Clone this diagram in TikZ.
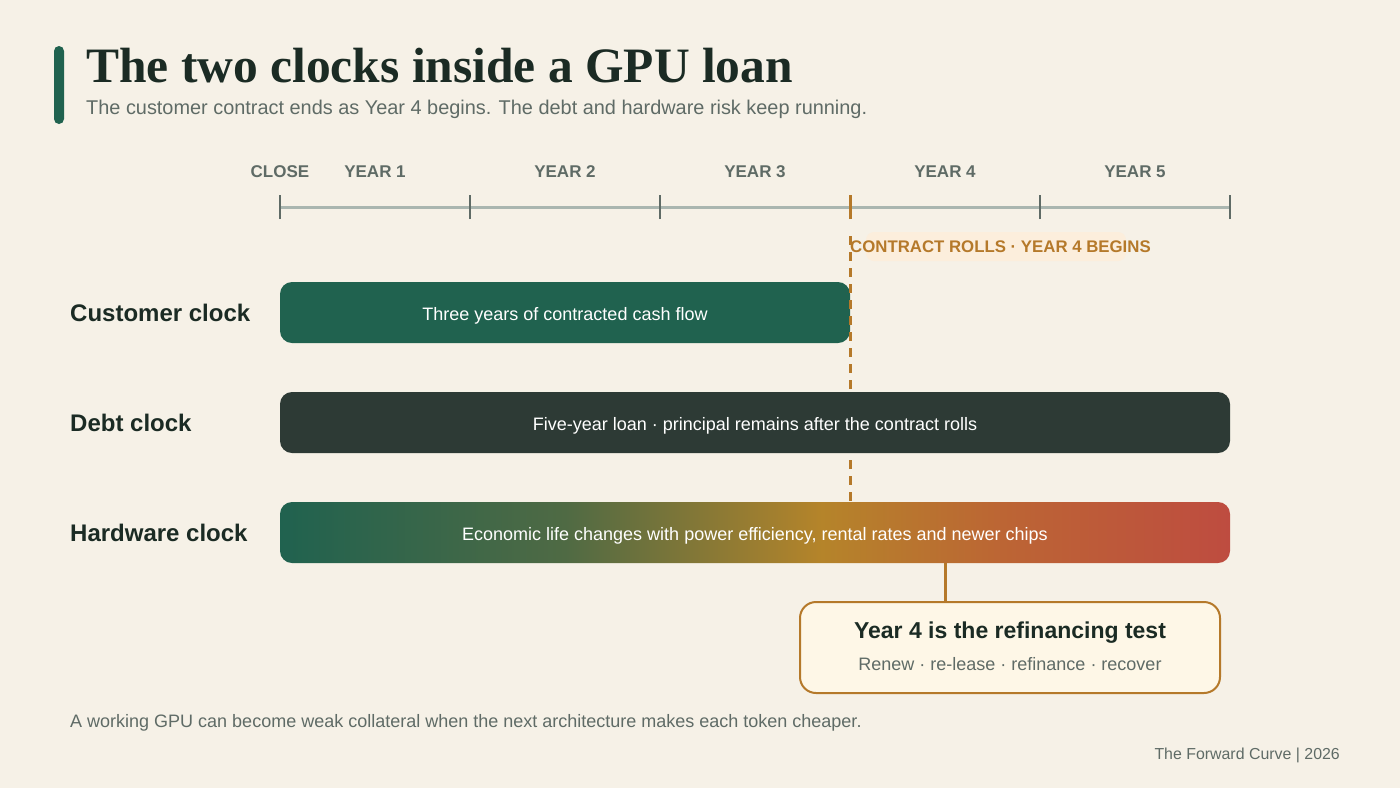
\documentclass[tikz,border=0pt]{standalone}
\usepackage{fontspec}
\setmainfont{Liberation Sans}
\newfontfamily\titlefont{Liberation Serif}
\definecolor{bgc}{HTML}{F6F1E7}
\definecolor{accent}{HTML}{20624F}
\definecolor{inkc}{HTML}{1B2B24}
\definecolor{greyc}{HTML}{5F6B66}
\definecolor{axisc}{HTML}{AAB6B0}
\definecolor{goldc}{HTML}{B5792A}
\definecolor{debtc}{HTML}{2D3A35}
\definecolor{paleb}{HTML}{FCEEDC}
\definecolor{callfill}{HTML}{FEF7E7}
\definecolor{gA}{HTML}{20624F}
\definecolor{gB}{HTML}{4F6A44}
\definecolor{gC}{HTML}{B5842A}
\definecolor{gD}{HTML}{BC6534}
\definecolor{gE}{HTML}{BE4C40}
\pgfdeclarehorizontalshading{hwgrad}{100bp}{color(0bp)=(gA); color(25bp)=(gA); color(40bp)=(gB); color(53.5bp)=(gC); color(63bp)=(gD); color(75bp)=(gE); color(100bp)=(gE)}
\tikzset{
  yearlab/.style={font=\bfseries\fontsize{17}{20}\selectfont, text=greyc, inner sep=0pt, anchor=base},
  rowlab/.style={font=\bfseries\fontsize{24}{28}\selectfont, text=inkc, anchor=base west, inner sep=0pt},
  bar/.style={rounded corners=12pt, minimum height=61pt, inner sep=0pt},
  bartext/.style={text=white, font=\fontsize{18}{22}\selectfont, anchor=base, inner sep=0pt},
  tick/.style={draw=greyc, line width=2.5pt},
}
\begin{document}
\begin{tikzpicture}[x=1pt,y=-1pt]
\useasboundingbox (0,0) rectangle (1400,788);
\fill[bgc] (0,0) rectangle (1400,788);
% header
\fill[accent, rounded corners=5pt] (54,46) rectangle (64,124);
\node[anchor=base west, inner sep=0pt, text=inkc, font=\titlefont\bfseries\fontsize{49.5}{54}\selectfont] (title) at (86,82) {The two clocks inside a GPU loan};
\node[anchor=base west, inner sep=0pt, text=greyc, font=\fontsize{19.9}{23}\selectfont] (sub) at (86,114) {The customer contract ends as Year 4 begins. The debt and hardware risk keep running.};
% timeline
\coordinate (t0) at (280,207);
\coordinate (t1) at (470,207);
\coordinate (t2) at (660,207);
\coordinate (t3) at (850,207);
\coordinate (t4) at (1040,207);
\coordinate (t5) at (1230,207);
\draw[axisc, line width=3pt] (t0) -- (t5);
\foreach \t in {t0,t1,t2,t4,t5} {\draw[tick] ([yshift=-12pt]\t) -- ([yshift=12pt]\t);}
\draw[goldc, line width=3pt] ([yshift=-12pt]t3) -- ([yshift=12pt]t3);
\node[yearlab] (lclose) at (280,177) {CLOSE};
\node[yearlab] (ly1) at (375,177) {YEAR 1};
\node[yearlab] (ly2) at (565,177) {YEAR 2};
\node[yearlab] (ly3) at (755,177) {YEAR 3};
\node[yearlab] (ly4) at (945,177) {YEAR 4};
\node[yearlab] (ly5) at (1135,177) {YEAR 5};
% contract roll label
\fill[paleb, rounded corners=8pt] (866,232) rectangle (1126,261);
\node[anchor=base west, inner sep=0pt, text=goldc, font=\bfseries\fontsize{16.8}{20}\selectfont] (roll) at (850,252.5) {CONTRACT ROLLS · YEAR 4 BEGINS};
% row labels
\node[rowlab] (lcust) at (70,321.7) {Customer clock};
\node[rowlab] (ldebt) at (70,431.7) {Debt clock};
\node[rowlab] (lhw) at (70,541.7) {Hardware clock};
% customer bar
\node[bar, fill=accent, minimum width=570pt] (cust) at (565,312.5) {};
\node[bartext] (custt) at (565,320) {Three years of contracted cash flow};
% dashed roll line
\coordinate (rtop) at (850,236);
\coordinate (rbot) at (850,502);
\draw[goldc, line width=3pt, dash pattern=on 9pt off 7pt] (rtop) -- (rbot);
% debt bar
\node[bar, fill=debtc, minimum width=950pt] (debt) at (755,422.5) {};
\node[bartext] (debtt) at (755,430) {Five-year loan · principal remains after the contract rolls};
% hardware bar
\node[bar, shading=hwgrad, minimum width=950pt] (hw) at (755,532.5) {};
\node[bartext] (hwt) at (755,540) {Economic life changes with power efficiency, rental rates and newer chips};
% callout
\node[draw=goldc, line width=2pt, fill=callfill, rounded corners=16pt, minimum width=420pt, minimum height=91pt, inner sep=0pt] (call) at (1010,647.5) {};
\node[anchor=base, inner sep=0pt, text=inkc, font=\bfseries\fontsize{23}{27}\selectfont] (calltitle) at (1010,638.5) {Year 4 is the refinancing test};
\node[anchor=base, inner sep=0pt, text=greyc, font=\fontsize{18}{21}\selectfont] (callsub) at (1010,670) {Renew · re-lease · refinance · recover};
\coordinate (cfoot) at (945,563);
\draw[goldc, line width=3pt] (cfoot) -- (cfoot |- call.north);
% footer
\node[anchor=base west, inner sep=0pt, text=greyc, font=\fontsize{18}{21}\selectfont] (note) at (70,727) {A working GPU can become weak collateral when the next architecture makes each token cheaper.};
\node[anchor=base east, inner sep=0pt, text=greyc, font=\fontsize{15.9}{19}\selectfont] (credit) at (1340,759.5) {The Forward Curve | 2026};
\end{tikzpicture}
\end{document}
